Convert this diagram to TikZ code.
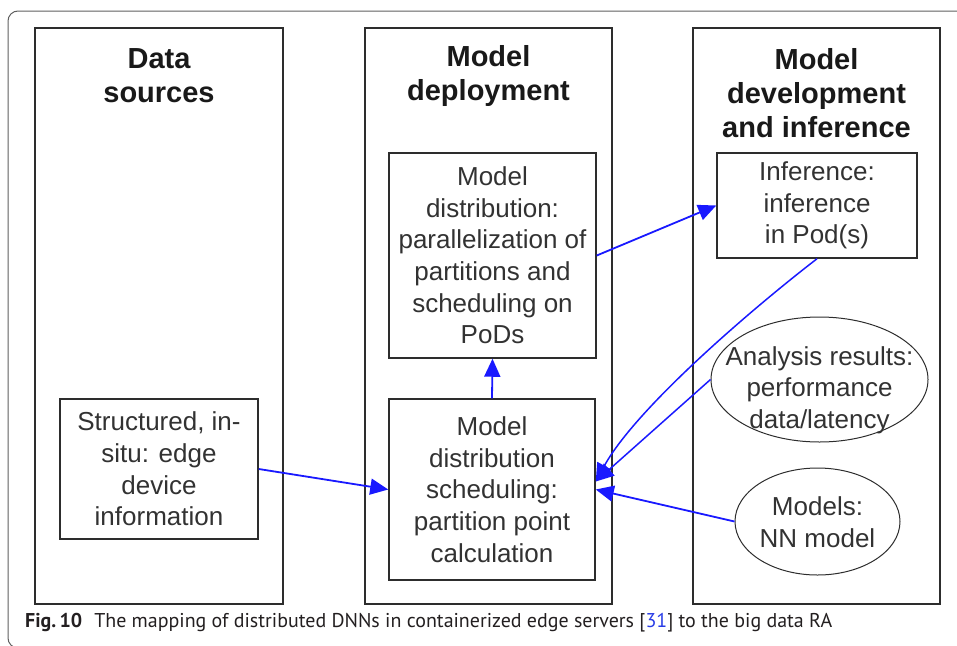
\documentclass[tikz,border=0pt]{standalone}
\usepackage{fontspec}
\usepackage{graphicx}
\setmainfont{Liberation Sans}
\newfontfamily\capfont{PT Sans}
\usetikzlibrary{arrows.meta,shapes.geometric}

\definecolor{inkgray}{RGB}{45,45,45}
\definecolor{headink}{RGB}{25,25,25}
\definecolor{bodyink}{RGB}{50,50,50}
\definecolor{flowblue}{RGB}{25,25,255}
\definecolor{framegray}{RGB}{95,95,95}
\definecolor{capink}{RGB}{35,31,32}
\definecolor{refblue}{RGB}{40,60,230}

\begin{document}
\begin{tikzpicture}[x=1pt,y=-1pt,
  colbox/.style={draw=inkgray,line width=2pt,rectangle,inner sep=0pt},
  head/.style={font=\fontsize{29}{34}\selectfont\bfseries,text=headink,align=center,inner sep=0pt},
  stepbox/.style={draw=inkgray,line width=1.5pt,rectangle,inner sep=0pt,align=center,
    font=\fontsize{26}{31.6}\selectfont,text=bodyink},
  oval/.style={draw=inkgray,line width=1pt,ellipse,inner sep=0pt},
  ovaltext/.style={align=center,font=\fontsize{26}{31.6}\selectfont,text=bodyink,inner sep=0pt},
  flow/.style={draw=flowblue,line width=1.8pt,-{Triangle[length=18pt,width=16pt]}}
]
\useasboundingbox (0,0) rectangle (957,645);
\begin{scope}
\clip (0,0) rectangle (957,645);
% figure frame
\draw[framegray,line width=1pt,rounded corners=10pt] (8,11) rectangle (990,648);

% three columns
\node[colbox,minimum width=248pt,minimum height=576pt] (src) at (159,316) {};
\node[colbox,minimum width=247pt,minimum height=576pt] (dep) at (488.5,316) {};
\node[colbox,minimum width=247pt,minimum height=576pt] (inf) at (816.5,316) {};

% column headings
\node[head] (hsrc) at (159,76) {Data\\sources};
\node[head] (hdep) at (488.5,76) {Model\\deployment};
\node[head] (hinf) at (816.5,93) {Model\\development\\and inference};

% boxes
\node[stepbox,minimum width=198pt,minimum height=140pt] (edge) at (159,469)
  {Structured, in-\\situ: edge\\device\\information};
\node[stepbox,minimum width=207pt,minimum height=205pt] (dist) at (492.5,255.5)
  {Model\\distribution:\\parallelization of\\partitions and\\scheduling on\\PoDs};
\node[stepbox,minimum width=206pt,minimum height=181pt] (part) at (492,489.5)
  {Model\\distribution\\scheduling:\\partition point\\calculation};
\node[stepbox,minimum width=200pt,minimum height=105pt] (pod) at (817,205.5)
  {Inference:\\inference\\in Pod(s)};

% ellipses
\node[oval,minimum width=217pt,minimum height=125pt] (ana) at (819.5,379.5) {};
\node[ovaltext] (anatext) at (819.5,390) {Analysis results:\\performance\\data/latency};
\node[oval,minimum width=165pt,minimum height=107pt] (nn) at (817.5,521.5) {};
\node[ovaltext] (nntext) at (817.5,522) {Models:\\NN model};

% connectors
\draw[flow] (edge.east) -- (part.west);
\draw[flow] (part.north) -- (dist.south);
\draw[flow] (dist.east) -- (pod.west);
\draw[flow,line width=1.5pt] (pod.south) .. controls (753,308) and (636,408) .. ([yshift=8pt]part.east);
\draw[flow,line width=1.5pt] (ana.west) -- ([yshift=8pt]part.east);
\draw[flow] (nn.west) -- (part.east);

% caption
\node[anchor=west,inner sep=0pt] (cap) at (25,623)
  {\resizebox{807pt}{!}{\capfont\color{capink}\textbf{Fig.\,10}\hspace{0.6em}The mapping of distributed DNNs in containerized edge servers [\textcolor{refblue}{31}] to the big data RA}};
\end{scope}
\end{tikzpicture}
\end{document}
